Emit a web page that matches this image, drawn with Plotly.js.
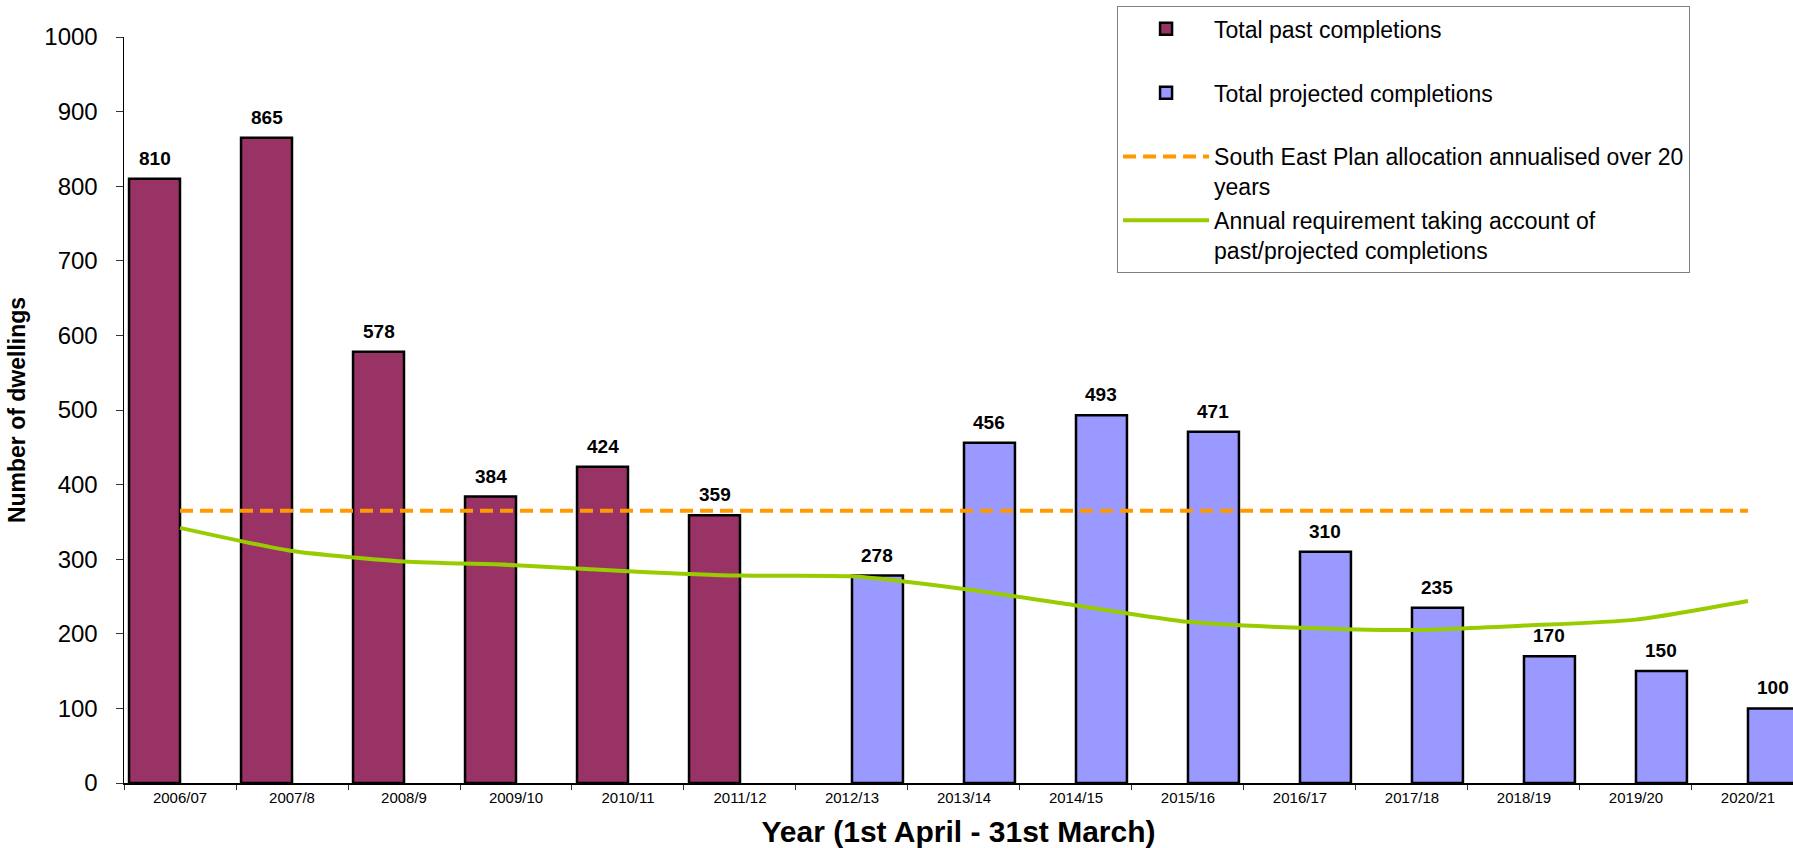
<!DOCTYPE html>
<html>
<head>
<meta charset="utf-8">
<script src="https://cdn.plot.ly/plotly-3.0.1.min.js"></script>
<style>html,body{margin:0;padding:0;background:#fff;}#chart{width:1793px;height:848px;}</style>
</head>
<body>
<div id="chart"></div>
<script>
const categories = ['2006/07','2007/8','2008/9','2009/10','2010/11','2011/12','2012/13','2013/14','2014/15','2015/16','2016/17','2017/18','2018/19','2019/20','2020/21'];
const pastCompletions = [810, 865, 578, 384, 424, 359, null, null, null, null, null, null, null, null, null];
const projectedCompletions = [null, null, null, null, null, null, 278, 456, 493, 471, 310, 235, 170, 150, 100];
const southEastPlan = [365, 365, 365, 365, 365, 365, 365, 365, 365, 365, 365, 365, 365, 365, 365];
const annualRequirement = [342, 311, 297, 292, 284, 278, 277, 260, 238, 216, 208, 205, 211, 219, 244];
const yTickVals = [0, 100, 200, 300, 400, 500, 600, 700, 800, 900, 1000];

const FONT = '"Liberation Sans", Arial, Helvetica, sans-serif';
const BARGAP = 0.09;
const barOffset = (1 - BARGAP) / 4; // centre of each bar within its group

const traces = [
  {
    type: 'bar', name: 'Total past completions<br> ', x: categories, y: pastCompletions,
    marker: {color: '#993366', line: {color: '#000000', width: 2.5}},
    legendgroup: 'a', offsetgroup: 'past'
  },
  {
    type: 'bar', name: 'Total projected completions<br> ', x: categories, y: projectedCompletions,
    marker: {color: '#9999FF', line: {color: '#000000', width: 2.5}},
    legendgroup: 'b', offsetgroup: 'proj'
  },
  {
    type: 'scatter', mode: 'lines', name: 'South East Plan allocation annualised over 20<br>years',
    x: categories, y: southEastPlan,
    line: {color: '#FF9900', width: 4, dash: '13px,7px'},
    legendgroup: 'c'
  },
  {
    type: 'scatter', mode: 'lines', name: 'Annual requirement taking account of<br>past/projected completions',
    x: categories, y: annualRequirement,
    line: {color: '#99CC00', width: 4, shape: 'spline', smoothing: 0.6},
    legendgroup: 'd'
  }
];

const annotations = [];
function addLabels(values, shift) {
  values.forEach((v, i) => {
    if (v === null) return;
    annotations.push({
      x: i + shift, y: v, xref: 'x', yref: 'y', text: String(v),
      showarrow: false, yanchor: 'bottom', yshift: 8,
      font: {family: FONT, size: 19, color: '#000000', weight: 'bold'}
    });
  });
}
addLabels(pastCompletions, -barOffset);
addLabels(projectedCompletions, barOffset);

const layout = {
  width: 1793, height: 848,
  margin: {l: 124, r: 0, t: 37, b: 65, pad: 0},
  paper_bgcolor: '#ffffff', plot_bgcolor: '#ffffff',
  font: {family: FONT, color: '#000000'},
  barmode: 'group', bargap: BARGAP, bargroupgap: 0,
  showlegend: true,
  legend: {
    x: 0.595, y: 1.041, xanchor: 'left', yanchor: 'top',
    bgcolor: '#ffffff', bordercolor: '#808080', borderwidth: 1,
    font: {family: FONT, size: 23, color: '#000000'},
    traceorder: 'grouped', tracegroupgap: 1, valign: 'top', itemwidth: 86
  },
  xaxis: {
    type: 'category', range: [-0.5, 14.402],
    showline: true, linecolor: '#000000', linewidth: 1.5,
    ticks: 'outside', tickson: 'boundaries', ticklen: 5, tickcolor: '#333333',
    showgrid: false, zeroline: false,
    tickfont: {family: FONT, size: 15, color: '#000000'},
    title: {text: 'Year (1st April - 31st March)', standoff: 24,
            font: {family: FONT, size: 30, color: '#000000', weight: 'bold'}}
  },
  yaxis: {
    range: [0, 1000], tickvals: yTickVals,
    showline: true, linecolor: '#000000', linewidth: 1.5,
    ticks: 'outside', ticklen: 7, tickcolor: '#333333',
    ticklabelstandoff: 13,
    showgrid: false, zeroline: false,
    tickfont: {family: FONT, size: 24, color: '#000000'},
    title: {text: 'Number of dwellings', standoff: 12,
            font: {family: FONT, size: 23, color: '#000000', weight: 'bold'}}
  },
  annotations: annotations
};

Plotly.newPlot('chart', traces, layout, {staticPlot: true, displayModeBar: false});
</script>
</body>
</html>
